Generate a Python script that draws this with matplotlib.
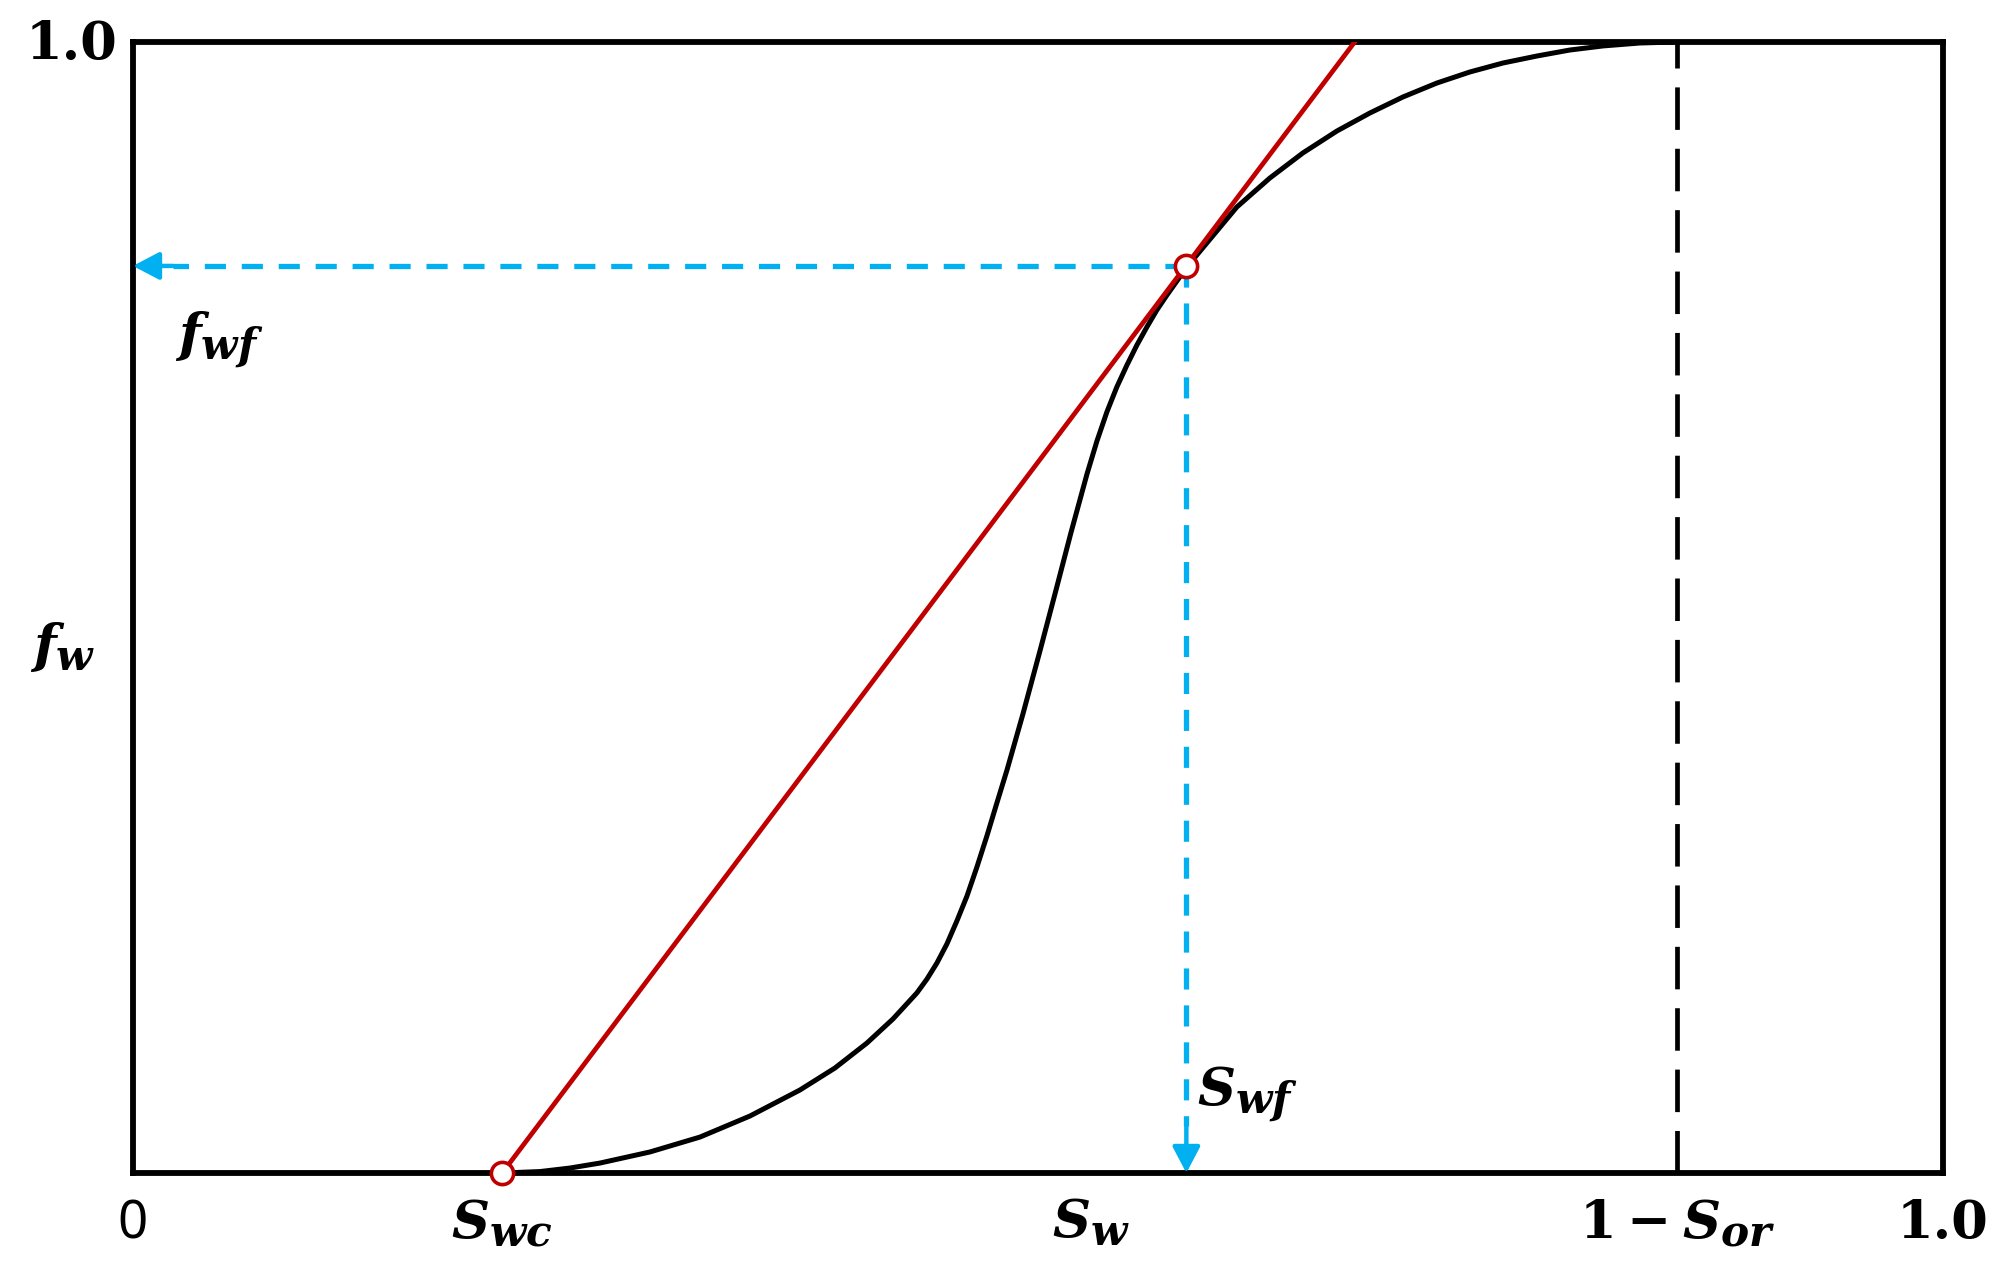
import numpy as np
import matplotlib
matplotlib.use("Agg")
import matplotlib.pyplot as plt
import matplotlib._mathtext as mathtext_internals

# fractional flow curve
sw = [0.2044, 0.2249, 0.2414, 0.2580, 0.2856, 0.3133, 0.3409, 0.3685, 0.3878,
      0.4055, 0.4199, 0.4331, 0.4387, 0.4442, 0.4497, 0.4552, 0.4608, 0.4663,
      0.4718, 0.4773, 0.4829, 0.4917, 0.5011, 0.5094, 0.5182, 0.5271, 0.5326,
      0.5381, 0.5436, 0.5492, 0.5547, 0.5602, 0.5657, 0.5713, 0.5768, 0.5823,
      0.5961, 0.6099, 0.6282, 0.6464, 0.6652, 0.6834, 0.7017, 0.7204, 0.7387,
      0.7569, 0.7757, 0.7939, 0.8122, 0.8326, 0.8530]
fw = [0.0000, 0.0013, 0.0044, 0.0088, 0.0186, 0.0318, 0.0504, 0.0734, 0.0928,
      0.1149, 0.1362, 0.1592, 0.1715, 0.1857, 0.2025, 0.2228, 0.2449, 0.2706,
      0.2980, 0.3271, 0.3563, 0.4058, 0.4615, 0.5119, 0.5659, 0.6180, 0.6472,
      0.6729, 0.6950, 0.7144, 0.7321, 0.7480, 0.7630, 0.7763, 0.7887, 0.8011,
      0.8276, 0.8541, 0.8798, 0.9019, 0.9213, 0.9372, 0.9514, 0.9637, 0.9735,
      0.9814, 0.9876, 0.9929, 0.9965, 0.9991, 1.0000]

swc = 0.204
swf = 0.582
fwf = 0.802
one_minus_sor = 0.853
sw_label_x = 0.529

tangent_x = [swc, 0.675]
tangent_y = [0.0, 1.0]

red = '#C00000'
blue = '#00B0F0'

plt.rcParams['mathtext.fontset'] = 'custom'
plt.rcParams['mathtext.it'] = 'DejaVu Serif:italic:bold'
plt.rcParams['mathtext.rm'] = 'DejaVu Serif:bold'
plt.rcParams['mathtext.bf'] = 'DejaVu Serif:bold'
# slightly larger subscripts, closer to the equation-editor look
mathtext_internals.SHRINK_FACTOR = 0.8

fig = plt.figure(figsize=(20.08, 12.76), dpi=100)
ax = fig.add_axes([0.0662, 0.0807, 0.9014, 0.8864])
ax.set_xlim(0, 1)
ax.set_ylim(0, 1)
ax.set_xticks([])
ax.set_yticks([])
for s in ax.spines.values():
    s.set_linewidth(4.2)

# curve, tangent, 1-Sor line
ax.plot(sw, fw, color='k', lw=3.6, zorder=3, solid_joinstyle='round')
ax.plot(tangent_x, tangent_y, color=red, lw=3.4, zorder=4)
ax.plot([one_minus_sor, one_minus_sor], [0, 1], color='k', lw=3.4,
        linestyle=(0, (9, 4)), zorder=3)

# blue dashed guides with arrowheads
dash = (0, (4, 3))
ax.plot([swf, 0.022], [fwf, fwf], color=blue, lw=3.8, linestyle=dash, zorder=2)
ax.plot([swf, swf], [fwf, 0.042], color=blue, lw=3.8, linestyle=dash, zorder=2)
head = dict(arrowstyle='-|>,head_length=0.8,head_width=0.42', color=blue,
            lw=3.2, shrinkA=0, shrinkB=0, mutation_scale=20)
ax.annotate('', xy=(0.0, fwf), xytext=(0.022, fwf), arrowprops=head,
            annotation_clip=False)
ax.annotate('', xy=(swf, 0.0), xytext=(swf, 0.042), arrowprops=head,
            annotation_clip=False)

# open markers
ax.plot([swc, swf], [0, fwf], 'o', ms=16, mfc='white', mec=red, mew=2.6,
        zorder=6, clip_on=False)

fs = 38
yb = -0.0575
ax.text(0.0, yb, '0', ha='center', va='baseline', fontsize=fs,
        family='Noto Sans')
ax.text(swc, yb, r'$S_{wc}$', ha='center', va='baseline', fontsize=fs)
ax.text(sw_label_x, yb, r'$S_w$', ha='center', va='baseline', fontsize=fs)
ax.text(one_minus_sor, yb, r'$1-S_{or}$', ha='center', va='baseline', fontsize=fs)
ax.text(1.0, yb, '1.0', ha='center', va='baseline', fontsize=fs,
        family='DejaVu Serif', weight='bold')
ax.text(-0.0083, 0.985, '1.0', ha='right', va='baseline', fontsize=fs,
        family='DejaVu Serif', weight='bold')
ax.text(-0.021, 0.465, r'$f_w$', ha='right', va='center', fontsize=fs)
ax.text(0.023, 0.7365, r'$f_{wf}$', ha='left', va='center', fontsize=fs)
ax.text(0.588, 0.07, r'$S_{wf}$', ha='left', va='center', fontsize=fs)

fig.savefig('out.png', dpi=100)
